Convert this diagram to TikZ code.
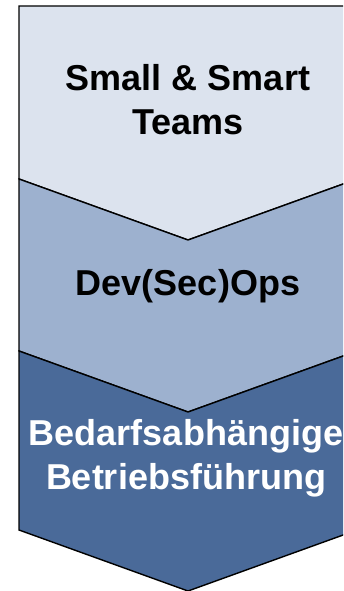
\documentclass[tikz,border=0pt]{standalone}
\usepackage{fontspec}
\setmainfont{Liberation Sans}
\definecolor{stageone}{RGB}{220,227,238}
\definecolor{stagetwo}{RGB}{157,177,207}
\definecolor{stagethree}{RGB}{74,106,153}
\begin{document}
\begin{tikzpicture}[x=1pt, y=-1pt,
    stage/.style={draw=black, line width=1.4pt, line join=miter},
    label/.style={align=center, inner sep=0pt,
        font=\fontsize{36}{44.3}\selectfont\bfseries}]
    % Picture frame (shapes run past the right edge)
    \clip (0,0) rectangle (343,591);

    % Top stage: flat top, chevron bottom
    \draw[stage, fill=stageone] (19,6) -- (357,6) -- (357,179) -- (188,240) -- (19,179) -- cycle;

    % Middle stage
    \draw[stage, fill=stagetwo] (19,179) -- (188,240) -- (357,179) -- (357,351) -- (188,412) -- (19,351) -- cycle;

    % Bottom stage
    \draw[stage, fill=stagethree] (19,351) -- (188,412) -- (357,351) -- (357,530) -- (188,591) -- (19,530) -- cycle;

    % Stage labels
    \node[label] (smart) at (188,99.7) {Small \& Smart\\Teams};
    \node[label] (devops) at (188,286.6) {Dev(Sec)Ops};
    \node[label, text=white] (betrieb) at (186,458.5) {Bedarfsabhängige\\Betriebsführung};
\end{tikzpicture}
\end{document}
